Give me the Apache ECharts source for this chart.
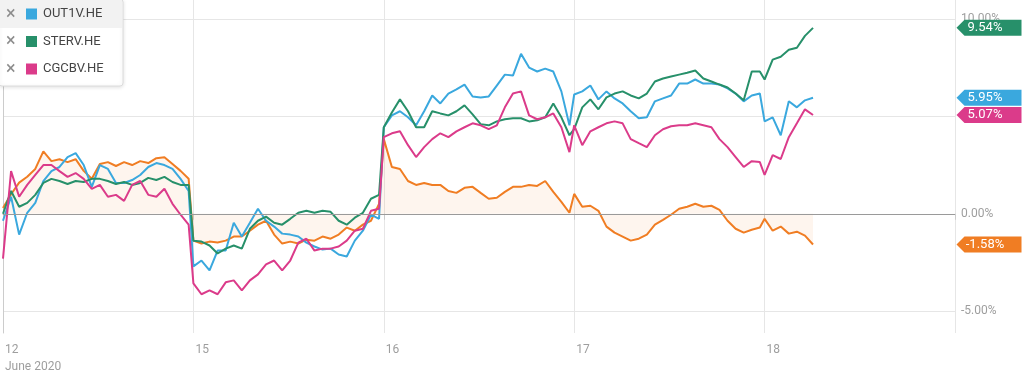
<!DOCTYPE html>
<html>
<head>
<meta charset="utf-8">
<script src="https://cdn.jsdelivr.net/npm/echarts@6/dist/echarts.min.js"></script>
<style>
html,body{margin:0;padding:0;background:#fff;}
#chart{width:1024px;height:375px;}
</style>
</head>
<body>
<div id="chart"></div>
<script>
// ---- data ----
const days = ['12', '15', '16', '17', '18'];
const monthLabel = 'June 2020';
const pointsPerDay = 24;
const yTicks = [-5, 0, 5, 10];
const seriesNames = ['OUT1V.HE', 'STERV.HE', 'CGCBV.HE'];
const baseName = 'Base';

const out1v = [
  -0.36, 0.87, -1.07, 0.05, 0.56, 1.68, 2.19, 2.4, 2.91, 3.11, 2.5, 1.38, 2.5, 2.3, 1.58, 1.58, 1.73, 1.99, 2.4, 2.6, 2.5, 2.3, 1.79, 1.17,
  -2.7, -2.4, -2.91, -1.89, -1.89, -0.46, -1.17, -0.46, 0.26, -0.36, -0.66, -1.02, -1.07, -1.17, -1.48, -1.68, -1.84, -1.79, -2.09, -2.19, -1.38, -0.87, -0.05, -0.26,
  4.44, 5.05, 5.26, 4.95, 4.54, 5.26, 6.07, 5.66, 6.17, 6.38, 6.63, 6.02, 5.97, 6.02, 6.58, 7.14, 7.09, 8.21, 7.5, 7.3, 7.45, 7.3, 6.28, 4.54,
  6.12, 6.28, 6.58, 5.87, 6.28, 5.92, 5.66, 5.26, 4.9, 4.95, 5.77, 5.92, 6.07, 6.68, 6.68, 6.89, 6.68, 6.68, 6.63, 6.43, 6.17, 5.77, 6.07, 6.17,
  4.74, 4.95, 4.03, 5.77, 5.46, 5.82, 5.95
];
const sterv = [
  0, 1.17, 0.36, 0.56, 0.97, 1.58, 1.79, 1.68, 1.53, 1.68, 1.63, 1.79, 1.79, 1.68, 1.53, 1.63, 1.48, 1.58, 1.84, 1.73, 1.89, 1.63, 1.48, 1.48,
  -1.38, -1.43, -1.63, -2.04, -1.79, -1.63, -1.79, -0.77, -0.36, -0.15, -0.46, -0.56, -0.26, 0.05, 0.15, 0.05, 0.15, 0.1, -0.36, -0.56, -0.2, 0.05, 0.77, 0.97,
  4.44, 5.2, 5.87, 5.26, 4.44, 4.44, 5.26, 5.15, 5.05, 5.26, 5.56, 5.1, 4.6, 4.54, 4.74, 4.85, 4.9, 4.9, 4.74, 4.8, 4.95, 5.66, 4.95, 4.03,
  4.34, 5.46, 5.87, 5.36, 5.97, 6.17, 6.28, 6.07, 5.92, 6.17, 6.79, 6.94, 7.04, 7.14, 7.24, 7.35, 6.94, 6.79, 6.63, 6.48, 6.17, 5.82, 7.3, 7.3,
  6.89, 7.91, 8.06, 8.42, 8.52, 9.13, 9.54
];
const cgcbv = [
  -2.3, 2.19, 0.87, 1.48, 1.99, 2.5, 2.5, 2.19, 1.89, 2.09, 1.79, 1.28, 1.48, 0.87, 0.97, 0.66, 1.48, 1.68, 0.97, 0.87, 1.28, 0.51, -0.05, -0.56,
  -3.57, -4.13, -3.93, -4.13, -3.52, -3.42, -3.93, -3.42, -3.11, -2.6, -2.4, -2.91, -2.4, -1.48, -1.28, -1.89, -1.79, -1.79, -1.68, -1.38, -0.87, -0.77, 0.15, 0.26,
  3.93, 4.13, 4.23, 3.52, 2.91, 3.42, 3.83, 4.13, 3.93, 4.23, 4.44, 4.64, 4.54, 4.34, 4.54, 5.46, 6.17, 6.28, 5.05, 4.85, 4.95, 5.15, 4.44, 3.16,
  4.54, 3.52, 4.23, 4.44, 4.64, 4.74, 4.64, 3.83, 3.62, 3.42, 4.03, 4.34, 4.49, 4.54, 4.54, 4.64, 4.54, 4.44, 3.83, 3.42, 2.91, 2.4, 2.7, 2.65,
  1.99, 3.01, 2.81, 3.93, 4.64, 5.36, 5.07
];
const baseStock = [
  0.3, 1.0, 1.6, 1.9, 2.3, 3.2, 2.7, 2.8, 2.65, 2.8, 2.2, 1.8, 2.55, 2.65, 2.45, 2.65, 2.5, 2.7, 2.6, 2.85, 2.9, 2.55, 2.2, 1.8,
  -1.38, -1.53, -1.43, -1.48, -1.38, -1.17, -1.17, -0.87, -0.56, -0.36, -1.07, -1.53, -1.43, -1.53, -1.33, -1.38, -1.17, -1.28, -1.07, -0.71, -0.87, -0.56, -0.36, 0.51,
  3.83, 2.4, 2.3, 1.68, 1.48, 1.58, 1.48, 1.48, 1.17, 1.07, 1.33, 1.38, 1.07, 0.77, 0.82, 1.12, 1.38, 1.38, 1.48, 1.43, 1.68, 1.12, 0.61, 0.05,
  1.02, 0.36, 0.41, 0.15, -0.66, -0.97, -1.17, -1.38, -1.28, -1.07, -0.56, -0.31, -0.05, 0.26, 0.36, 0.51, 0.36, 0.41, 0.2, -0.36, -0.77, -0.97, -0.82, -0.71,
  -0.26, -0.87, -0.66, -1.02, -0.92, -1.12, -1.58
];

const colors = {
  'OUT1V.HE': '#3aa8de',
  'STERV.HE': '#27906a',
  'CGCBV.HE': '#db3b8a',
  base: '#f07d23'
};

// ---- chart ----
const chart = echarts.init(document.getElementById('chart'));
const xMax = pointsPerDay * days.length;
const FONT = 'Roboto';
const tagPath = 'path://M0,8 L8,0 L65,0 L65,16 L8,16 Z';
// intraday samples of a session occupy slightly less than the full day slot (overnight gap)
const sessionSpan = pointsPerDay - 0.6;

function toPairs(arr) {
  return arr.map((v, i) => {
    const d = Math.floor(i / pointsPerDay), k = i % pointsPerDay;
    return [d * pointsPerDay + k * sessionSpan / (pointsPerDay - 1), v];
  });
}
function lastTag(arr, color) {
  const v = arr[arr.length - 1];
  return {
    symbol: 'none', silent: true,
    data: [{
      coord: [xMax, v], value: v,
      symbol: tagPath, symbolSize: [65, 16], symbolOffset: [34, 0],
      itemStyle: { color: color },
      label: {
        show: true, position: 'inside', offset: [-4, 0],
        formatter: p => p.value.toFixed(2) + '%',
        color: '#fff', fontSize: 13, fontFamily: FONT
      }
    }]
  };
}
function lineSeries(name, arr, color, extra) {
  return Object.assign({
    name: name, type: 'line', data: toPairs(arr), showSymbol: false,
    symbol: 'none', smooth: false, animation: false,
    lineStyle: { color: color, width: 2 }, itemStyle: { color: color },
    markPoint: lastTag(arr, color), z: 3
  }, extra || {});
}

const rowH = 27.5;
const graphics = [
  { type: 'rect', shape: { x: -1, y: -1, width: 124, height: 87, r: 3 }, style: { fill: '#fff', stroke: '#dcdcdc', lineWidth: 1, shadowBlur: 4, shadowColor: 'rgba(0,0,0,0.12)', shadowOffsetY: 1 }, z: 100 },
  { type: 'rect', shape: { x: 0, y: 0, width: 122, height: 28 }, style: { fill: '#f2f2f2' }, z: 101 }
];
seriesNames.forEach((n, i) => {
  graphics.push({ type: 'text', x: 6, y: 14 + i * rowH, style: { text: '\u00d7', fill: '#8d8d8d', font: '18px ' + FONT, verticalAlign: 'middle' }, z: 102 });
});

const option = {
  animation: false,
  textStyle: { fontFamily: FONT },
  grid: { left: 0, right: 69, top: 0, bottom: 40, containLabel: false },
  legend: {
    data: seriesNames, orient: 'vertical', left: 26, top: 7.5, padding: 0,
    itemWidth: 11, itemHeight: 11, itemGap: 14.5, icon: 'rect',
    textStyle: { fontSize: 13, color: '#444', fontFamily: FONT, padding: [0, 0, 0, 1] },
    selectedMode: false, z: 200
  },
  graphic: graphics,
  xAxis: {
    type: 'value', min: 0, max: xMax, interval: pointsPerDay,
    axisLine: { show: true, lineStyle: { color: '#cccccc' } },
    axisTick: { show: true, length: 6, lineStyle: { color: '#cccccc' } },
    splitLine: { show: true, lineStyle: { color: '#e6e6e6' } },
    axisLabel: {
      margin: 8, align: 'left', padding: [0, 0, 0, 2], color: '#9e9e9e', fontSize: 12, lineHeight: 17, fontFamily: FONT,
      formatter: v => {
        const d = days[Math.round(v / pointsPerDay)];
        if (d === undefined) return '';
        return v === 0 ? d + '\n' + monthLabel : d;
      }
    }
  },
  yAxis: {
    type: 'value', position: 'right', min: -6.12, max: 10.97,
    axisLine: { show: true, lineStyle: { color: '#cccccc' } },
    axisTick: { show: false, customValues: yTicks },
    splitLine: { show: true, lineStyle: { color: '#e6e6e6' } },
    axisLabel: {
      customValues: yTicks, margin: 6, color: '#9e9e9e', fontSize: 12, fontFamily: FONT,
      formatter: v => v.toFixed(2) + '%'
    }
  },
  series: [
    lineSeries(baseName, baseStock, colors.base, {
      areaStyle: { color: 'rgba(240,125,35,0.11)', origin: 0 },
      markLine: {
        silent: true, symbol: 'none', animation: false,
        lineStyle: { color: '#9a9a9a', width: 1, type: 'solid' },
        label: { show: false },
        data: [{ yAxis: 0 }]
      }
    }),
    lineSeries(seriesNames[0], out1v, colors['OUT1V.HE']),
    lineSeries(seriesNames[1], sterv, colors['STERV.HE']),
    lineSeries(seriesNames[2], cgcbv, colors['CGCBV.HE'])
  ]
};
chart.setOption(option);
</script>
</body>
</html>
